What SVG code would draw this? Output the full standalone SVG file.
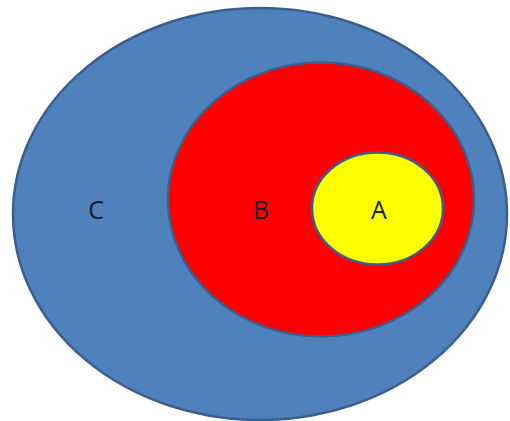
<svg xmlns="http://www.w3.org/2000/svg" width="510" height="421" viewBox="0 0 510 421">
<style>
.set{stroke:#3B5E8C;stroke-width:2.5}
.lbl{font-family:"Open Sans","Liberation Sans",sans-serif;font-size:25px;fill:#1a1a2a;text-anchor:middle}
</style>
<rect width="510" height="421" fill="#ffffff"/>
<g id="C">
<ellipse class="set" cx="260" cy="214" rx="247" ry="206" fill="#4F81BD"/>
<text class="lbl" x="96" y="219">C</text>
</g>
<g id="B">
<ellipse class="set" cx="321" cy="199.5" rx="153" ry="137" fill="#FF0000"/>
<text class="lbl" x="261" y="219">B</text>
</g>
<g id="A">
<ellipse class="set" cx="377.5" cy="208.5" rx="65.5" ry="56" fill="#FFFF00"/>
<text class="lbl" x="379" y="219">A</text>
</g>
<g id="connectors"/>
</svg>
